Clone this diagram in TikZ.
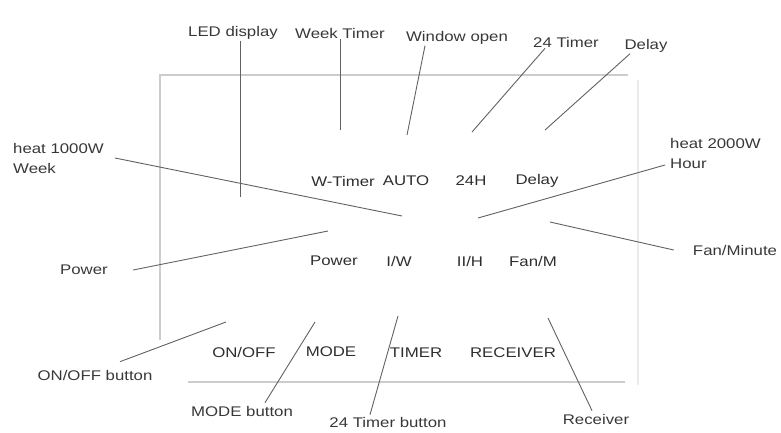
\documentclass[tikz,border=0pt]{standalone}
\usepackage{fontspec}
\setmainfont{Liberation Sans}
\usepackage{graphicx}
\usepackage{tikz}
\usetikzlibrary{calc, positioning}

\newcommand{\wtxt}[1]{\scalebox{1.2}[1]{#1}}

\begin{document}
\begin{tikzpicture}[x=1pt, y=-1pt,
			callout/.style={font=\fontsize{14}{17}\selectfont, text=black!78, inner sep=1pt},
			panel/.style={font=\fontsize{14}{17}\selectfont, text=black!82, inner sep=1pt},
			lead/.style={draw=black!62, line width=0.9pt},
			rim/.style={draw=black!20, line width=2.5pt}
			]
			\useasboundingbox (0,0) rectangle (781,432);
			% frame of the unit
			\draw[rim] (160,340) -- (160,75) -- (628,75);
			\draw[rim, line width=1.8pt] (188,382) -- (625,382);
			\draw[draw=black!8, line width=2.5pt] (638,80) -- (638,385);

			% texts on the panel
			\node [panel](wtimer) at (343,181) {\wtxt{W-Timer}};
			\node [panel](auto) at (406,181) {\wtxt{AUTO}};
			\node [panel](h24) at (471,181) {\wtxt{24H}};
			\node [panel](delay) at (537,181) {\wtxt{Delay}};
			\node [panel](power) at (334,261) {\wtxt{Power}};
			\node [panel](iw) at (399,261) {\wtxt{I/W}};
			\node [panel](iih) at (470,261) {\wtxt{II/H}};
			\node [panel](fanm) at (533,261) {\wtxt{Fan/M}};
			\node [panel](onoff) at (244,352) {\wtxt{ON/OFF}};
			\node [panel](mode) at (331,352) {\wtxt{MODE}};
			\node [panel](timer) at (416,353) {\wtxt{TIMER}};
			\node [panel](receiver) at (513,353) {\wtxt{RECEIVER}};

			% callouts
			\node [callout](led) at (233,33) {\wtxt{LED display}};
			\node [callout](weektimer) at (340,33) {\wtxt{Week Timer}};
			\node [callout](window) at (457,38) {\wtxt{Window open}};
			\node [callout](timer24) at (566,42) {\wtxt{24 Timer}};
			\node [callout](delaylab) at (646,46) {\wtxt{Delay}};
			\node [callout, anchor=west, align=left](heatone) at (12,158) {\wtxt{heat 1000W}\\[3pt]\wtxt{Week}};
			\node [callout, anchor=west, align=left](heattwo) at (669,153) {\wtxt{heat 2000W}\\[3pt]\wtxt{Hour}};
			\node [callout](powerlab) at (84,270) {\wtxt{Power}};
			\node [callout](fanlab) at (735,250) {\wtxt{Fan/Minute}};
			\node [callout](onoffbtn) at (95,375) {\wtxt{ON/OFF button}};
			\node [callout](modebtn) at (242,411) {\wtxt{MODE button}};
			\node [callout](timerbtn) at (388,422) {\wtxt{24 Timer button}};
			\node [callout](recvlab) at (596,419) {\wtxt{Receiver}};

			% points on the panel
			\coordinate (pled) at (240,197);
			\coordinate (pweek) at (340,130);
			\coordinate (pwin) at (407,135);
			\coordinate (p24) at (472,132);
			\coordinate (pdelay) at (545,130);
			\coordinate (pheatone) at (402,216);
			\coordinate (pheattwo) at (478,218);
			\coordinate (ppower) at (328,231);
			\coordinate (pfan) at (550,222);
			\coordinate (ponoff) at (226,322);
			\coordinate (pmode) at (315,322);
			\coordinate (ptimer) at (398,316);
			\coordinate (precv) at (548,318);

			\draw[lead] (led.south -| pled) -- (pled);
			\draw[lead] (weektimer.south) -- (pweek);
			\draw[lead] ([xshift=-32pt]window.south) -- (pwin);
			\draw[lead] ([xshift=-21pt]timer24.south) -- (p24);
			\draw[lead] ([xshift=-16pt]delaylab.south) -- (pdelay);
			\draw[lead] ([xshift=10pt]heatone.east) -- (pheatone);
			\draw[lead] ([xshift=-4pt,yshift=-12pt]heattwo.west) -- (pheattwo);
			\draw[lead] ([xshift=24pt]powerlab.east) -- (ppower);
			\draw[lead] ([xshift=-18pt]fanlab.west) -- (pfan);
			\draw[lead] ([xshift=25pt,yshift=7pt]onoffbtn.north) -- (ponoff);
			\draw[lead] ([xshift=23pt,yshift=2pt]modebtn.north) -- (pmode);
			\draw[lead] ([xshift=-18pt,yshift=1pt]timerbtn.north) -- (ptimer);
			\draw[lead] ([xshift=-4pt,yshift=2pt]recvlab.north) -- (precv);
		\end{tikzpicture}
\end{document}
